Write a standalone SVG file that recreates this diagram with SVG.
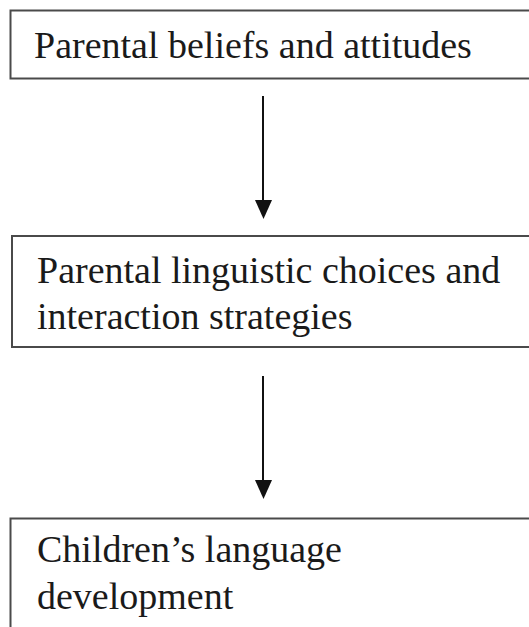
<svg xmlns="http://www.w3.org/2000/svg" width="529" height="627" viewBox="0 0 529 627">
  <defs>
    <style>
      .box { fill: #ffffff; stroke: #4a4a4a; stroke-width: 2; }
      .link { stroke: #111111; stroke-width: 2; fill: none; }
      .head { fill: #111111; }
    </style>
  </defs>
  <rect width="529" height="627" fill="#ffffff"/>

  <!-- three stacked boxes; the right edges run off the page -->
  <g id="beliefs">
    <rect class="box" x="10.5" y="10.5" width="530" height="68"/>
    <text x="34" y="58" font-family="Liberation Serif" font-size="38" fill="#1a1a1a">Parental beliefs and attitudes</text>
  </g>

  <g id="choices">
    <rect class="box" x="12" y="236" width="530" height="111"/>
    <text x="37" y="283" font-family="Liberation Serif" font-size="38" fill="#1a1a1a">Parental linguistic choices and</text>
    <text x="37" y="329" font-family="Liberation Serif" font-size="38" fill="#1a1a1a">interaction strategies</text>
  </g>

  <g id="development">
    <rect class="box" x="10.5" y="518.5" width="530" height="130"/>
    <text x="37" y="562" font-family="Liberation Serif" font-size="38" fill="#1a1a1a">Children’s language</text>
    <text x="37" y="609" font-family="Liberation Serif" font-size="38" fill="#1a1a1a">development</text>
  </g>

  <!-- downward arrows between boxes -->
  <g id="connectors">
    <line class="link" x1="263" y1="96" x2="263" y2="202"/>
    <polygon class="head" points="255,200 272,200 263.5,219"/>
    <line class="link" x1="263" y1="376" x2="263" y2="482"/>
    <polygon class="head" points="255,480 272,480 263.5,499"/>
  </g>
</svg>
